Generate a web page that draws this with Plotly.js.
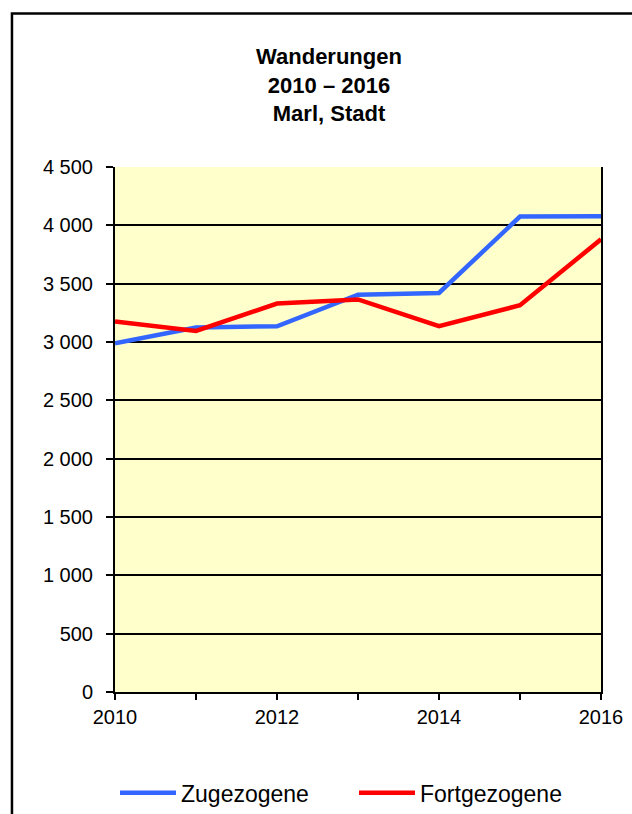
<!DOCTYPE html>
<html><head><meta charset="utf-8">
<script src="https://cdn.plot.ly/plotly-3.0.1.min.js"></script>
<style>html,body{margin:0;padding:0;background:#fff;}#chart{width:632px;height:814px;}</style>
</head><body><div id="chart"></div>
<script>
const years = [2010, 2011, 2012, 2013, 2014, 2015, 2016];
const zugezogene = [2990, 3125, 3135, 3405, 3420, 4075, 4078];
const fortgezogene = [3175, 3095, 3330, 3365, 3135, 3315, 3880];
const yTicks = [0, 500, 1000, 1500, 2000, 2500, 3000, 3500, 4000, 4500];
const xTickLabels = ['2010', '', '2012', '', '2014', '', '2016'];

const font = {family: 'Liberation Sans, Arial, sans-serif', color: '#000', size: 20};

const traces = [
  {x: years, y: zugezogene, name: 'Zugezogene', mode: 'lines', line: {color: '#3366FF', width: 4.5}},
  {x: years, y: fortgezogene, name: 'Fortgezogene', mode: 'lines', line: {color: '#FF0000', width: 4.5}}
];

const layout = {
  width: 632, height: 814,
  margin: {l: 115, r: 31, t: 167, b: 122, autoexpand: false},
  paper_bgcolor: '#fff', plot_bgcolor: '#FFFFCC',
  font: font,
  separators: ', ',
  title: {text: '<b>Wanderungen<br>2010 – 2016<br>Marl, Stadt</b>', xref: 'container', x: 0.5206, xanchor: 'center',
    yref: 'container', y: 1 - 64 / 814, yanchor: 'top', font: {size: 22, family: font.family, color: '#000'}},
  xaxis: {range: [2010, 2016], tickvals: years, ticktext: xTickLabels, ticks: 'outside', ticklen: 6, tickwidth: 2, tickcolor: '#000',
    showline: true, linecolor: '#000', linewidth: 2, showgrid: false, zeroline: false, fixedrange: true, tickfont: {size: 20}},
  yaxis: {range: [0, 4500], tickvals: yTicks, tickformat: ',d', ticks: 'outside', ticklen: 7, tickwidth: 2, tickcolor: '#000',
    ticklabelstandoff: 9,
    showline: true, mirror: true, linecolor: '#000', linewidth: 2, showgrid: true, gridcolor: '#000', gridwidth: 2, zeroline: false, fixedrange: true, tickfont: {size: 20}},
  legend: {orientation: 'h', x: 0, xanchor: 'left', y: -0.192, yanchor: 'middle', font: {size: 23}, itemwidth: 56, entrywidth: 168, tracegroupgap: 0},
  showlegend: true,
  shapes: [{type: 'rect', xref: 'paper', yref: 'paper', x0: -0.212, x1: 1.2, y0: -0.4, y1: 1.2924, line: {color: '#000', width: 2.5}, fillcolor: 'rgba(0,0,0,0)', layer: 'below'}]
};

Plotly.newPlot('chart', traces, layout, {displayModeBar: false, staticPlot: true});
</script>
</body></html>
